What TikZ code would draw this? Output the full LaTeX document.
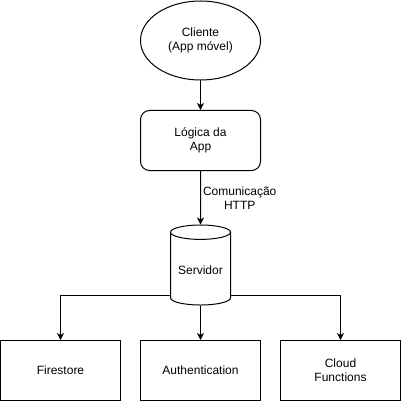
\documentclass[tikz,border=0pt]{standalone}
\usepackage{fontspec}
\setmainfont{Liberation Sans}
\usepackage{tikz}
\usetikzlibrary{shapes.geometric, arrows.meta, positioning}
\tikzstyle{arrow} = [line width=1pt,-{Stealth[length=7pt,width=7pt,inset=2pt]}]
\tikzstyle{caixa} = [draw, line width=1pt, minimum width=120pt, minimum height=60pt, align=center]

\begin{document}
\begin{tikzpicture}[x=1pt,y=-1pt,font=\fontsize{12pt}{14pt}\selectfont]
\useasboundingbox (-0.5,-0.5) rectangle (400.5,400.5);

% Cliente e logica:
\node [draw, line width=1pt, ellipse, minimum width=120pt, minimum height=79pt, align=center] (cliente) at (200,40) {Cliente\\(App móvel)};
\node [caixa, rounded corners=9pt] (logica) at (200,140) {Lógica da\\App};

% Servidor:
\node [draw, line width=1pt, cylinder, shape border rotate=90, aspect=0.28, minimum width=60pt, minimum height=80pt] (servidor) at (200,270) {Servidor};

% Servicos:
\node [caixa] (firestore) at (60,370) {Firestore};
\node [caixa] (auth) at (200,370) {Authentication};
\node [caixa] (cloud) at (340,370) {Cloud\\Functions};

\draw [arrow] (cliente) -- (logica);
\draw [arrow] (logica) -- node [right, align=center, inner sep=2pt] {Comunicação\\HTTP} (servidor);
\draw [arrow] ([yshift=-25pt]servidor.west) -| (firestore.north);
\draw [arrow] (servidor.bottom) -- (auth);
\draw [arrow] ([yshift=-25pt]servidor.east) -| (cloud.north);
\end{tikzpicture}
\end{document}
